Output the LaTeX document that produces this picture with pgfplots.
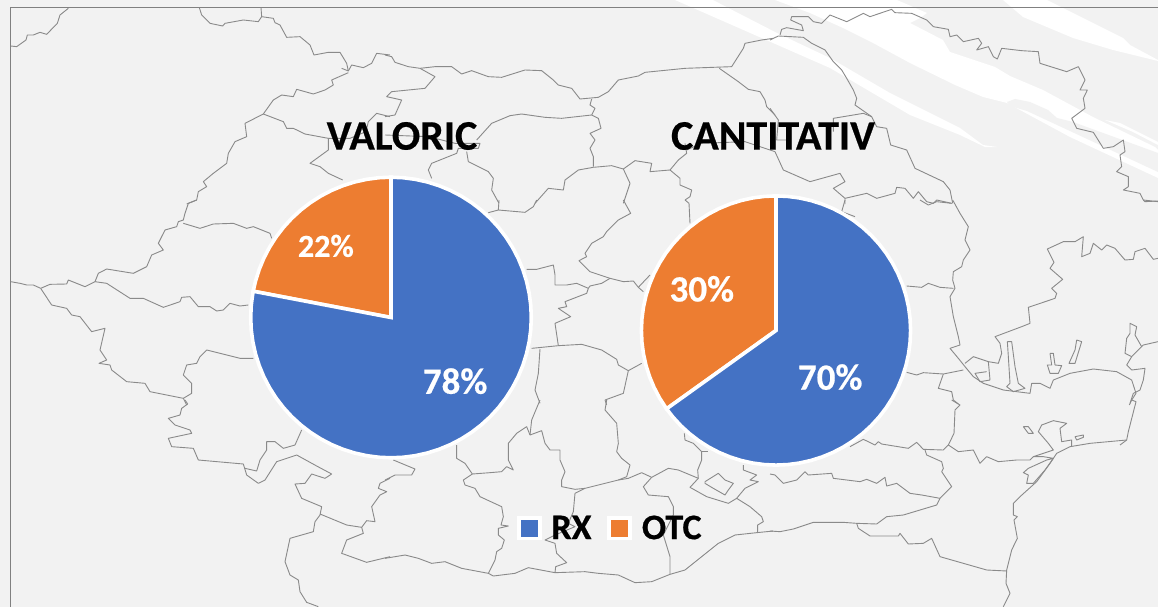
\documentclass[border=0pt]{standalone}
\usepackage{fontspec}
\setmainfont{Carlito}[BoldFeatures={FakeBold=0.5}]
\usepackage{pgfplots}
\pgfplotsset{compat=1.18}
\usepgfplotslibrary{polar}
\definecolor{bg}{HTML}{F2F2F2}
\definecolor{rx}{HTML}{4472C4}
\definecolor{otc}{HTML}{ED7D31}
\definecolor{mapgray}{HTML}{8A8A8A}
% map line given in coordinates of a 3x crop with offset (#1,#2)
\newcommand\ml[3]{\addplot[forget plot,mapgray,line width=0.9pt,line join=round,no markers,
  x filter/.expression={x/3+#1},y filter/.expression={y/3+#2}] coordinates {#3};}
\newcommand\wh[1]{\addplot[forget plot,fill=white,draw=none,no markers] coordinates {#1} -- cycle;}
\pgfplotsset{pie/.style={at={(#1)},anchor=center,scale only axis,hide axis,clip=false,
  xmin=0,xmax=360,ymin=0,ymax=1}}
\begin{document}
\begin{tikzpicture}
\begin{axis}[name=main,at={(0pt,0pt)},anchor=south west,scale only axis,width=1158pt,height=607pt,
  xmin=0,xmax=1158,ymin=0,ymax=607,y dir=reverse,hide axis,
  legend columns=2,
  legend style={at={(0.527,0.130)},anchor=center,draw=none,fill=none,inner sep=0pt,
    font=\fontsize{36}{36}\selectfont\bfseries,
    /tikz/every even column/.append style={column sep=14pt},
    /tikz/every odd column/.append style={column sep=8pt}}]
\fill[bg] (axis cs:0,0) rectangle (axis cs:1158,607);
% white streaks
\wh{(713,0)(740,14)(777,33)(830,58)(890,93)(960,128)(983,145)(997,147)(985,147)(960,135)(910,115)(830,68)(773,43)(675,0)}
\wh{(775,0)(810,13)(843,28)(873,43)(910,63)(955,85)(983,97)(1007,103)(1070,137)(1158,178)(1158,150)(1155,147)(1093,117)(1043,90)(1010,76)(995,67)(950,52)(943,40)(910,23)(920,18)(927,13)(897,0)}
\addplot[forget plot,fill=bg,draw=none,no markers] coordinates {(1007,102)(1015,99)(1030,102)(1048,110)(1057,118)(1073,122)(1158,153)(1158,172)(1027,111)(1010,106)} -- cycle;
\wh{(1003,0)(1023,17)(1073,38)(1113,50)(1158,61)(1158,60)(1130,45)(1123,38)(1087,20)(1047,0)}
\wh{(1105,120)(1120,123)(1158,142)(1158,145)(1133,132)}
% frame
\draw[gray,line width=0.8pt] (axis cs:10.5,607) -- (axis cs:10.5,7.5) -- (axis cs:1158,7.5);
% map: zoom 1
\ml{0}{0}{(32,138)(50,140)(78,120)(82,105)(100,105)(120,97)(140,103)(172,70)(180,45)(205,25)}
\ml{0}{0}{(598,23)(605,45)(630,70)(668,78)(675,70)(730,60)(775,65)(785,50)(783,23)}
\ml{0}{0}{(785,50)(820,55)(825,68)(840,75)(860,112)(900,110)(930,135)(942,165)(985,157)(1020,157)(1040,190)(1045,213)(1025,205)}
\ml{0}{0}{(1045,213)(1055,195)(1090,203)(1115,190)(1130,160)(1170,165)}
\ml{0}{0}{(560,612)(590,600)(595,575)(620,560)(610,545)(640,520)(680,490)(685,460)(705,425)(740,410)(735,370)(790,342)(820,300)(845,285)(880,290)(890,268)(940,282)(975,270)(1000,255)(995,240)(1045,218)}
\ml{0}{0}{(790,342)(850,365)(860,385)(880,385)(915,402)(985,415)(985,450)(930,490)(960,500)(985,520)(1028,540)}
\ml{0}{0}{(985,415)(1050,415)(1098,395)(1105,365)(1130,340)(1170,350)}
% zoom 2
\ml{385}{0}{(0,165)(20,170)(30,187)(70,200)(105,205)(150,200)(200,200)(230,222)(260,212)(310,230)(350,232)(420,210)(470,212)(505,240)(520,255)(560,265)(585,297)(640,292)(670,275)(700,240)(760,228)(780,217)(900,205)(1040,200)(1075,145)(1080,130)(1130,120)(1165,115)}
\ml{385}{0}{(105,205)(150,230)(120,265)(20,275)(5,290)(50,300)(30,345)(0,350)}
\ml{385}{0}{(0,405)(130,410)(210,430)(285,430)(280,445)(220,445)(215,460)(140,490)(130,510)(140,535)}
\ml{385}{0}{(275,420)(320,370)(375,347)(410,342)(480,352)(530,355)(620,345)(640,355)(648,385)(615,400)(630,420)(615,445)(625,470)(625,500)}
\ml{385}{0}{(620,297)(615,315)(630,325)(620,345)}
\ml{385}{0}{(245,455)(250,485)(310,515)(325,535)(320,570)(342,610)}
\ml{385}{0}{(625,502)(580,510)(540,540)(535,570)(490,565)(450,610)}
\ml{385}{0}{(625,502)(680,497)(715,507)(735,550)(715,610)}
\ml{385}{0}{(715,507)(750,482)(800,490)(795,515)(855,510)(885,535)(885,555)(920,570)(915,590)(900,600)}
\ml{385}{0}{(855,510)(880,480)(905,460)(900,430)}
\ml{385}{0}{(905,450)(950,430)(1080,425)(1170,455)}
\ml{385}{0}{(1003,205)(1060,245)(1090,268)(1125,275)(1140,300)(1145,320)(1170,345)}
% zoom 3
\ml{770}{0}{(0,120)(25,108)(100,112)(125,130)(165,150)(190,185)(215,210)(230,235)(250,270)(260,295)(255,315)(305,350)(320,380)(350,385)(362,435)(410,450)(435,505)(520,545)(540,570)(548,610)}
\ml{770}{0}{(30,105)(35,88)(50,83)(100,92)(95,75)(62,60)(65,50)(115,50)(130,65)(155,70)(180,45)(230,65)(280,40)(300,50)(365,28)(375,38)(425,40)(470,60)(490,80)(535,88)(540,110)(560,105)(580,125)(625,115)(635,130)(620,150)(655,140)(670,170)(682,177)(695,145)(755,152)(805,155)(810,190)(890,215)(925,200)(945,240)(930,270)(952,270)(940,295)(945,325)(905,355)(920,385)(970,397)(1000,445)(1030,440)(1060,420)(1065,455)(1050,465)(1055,500)(1040,515)(1075,530)(1075,560)(1060,570)(1110,580)(1120,600)(1164,605)}
\ml{770}{0}{(0,325)(25,360)(20,420)(50,420)}
\ml{770}{0}{(190,395)(190,355)(280,340)(305,350)}
\ml{770}{0}{(15,455)(40,510)(120,545)(210,520)(225,545)(190,565)(225,595)(225,612)}
\ml{770}{0}{(225,595)(290,580)(320,595)(375,580)(380,562)(405,565)(430,595)(445,575)(470,605)(490,610)(500,600)(545,610)}
% zoom 4
\ml{0}{200}{(32,245)(60,250)(80,255)(100,255)(122,265)(150,253)(200,252)(205,240)(255,260)(285,245)(295,220)(320,207)(400,220)(440,200)(455,165)(490,150)(475,130)(495,90)(530,80)(535,65)(550,60)(555,40)(565,10)(590,0)}
\ml{0}{200}{(122,265)(155,315)(200,325)(215,345)(240,350)(275,395)(315,385)(300,450)(320,480)(297,490)(330,495)(335,510)(380,545)(435,550)(450,575)(550,595)(560,615)}
\ml{0}{200}{(285,245)(320,250)(390,295)(430,295)(490,322)(540,305)(545,292)(570,290)(595,320)(630,320)(650,333)(670,330)(690,310)(720,318)(745,315)}
\ml{0}{200}{(550,70)(600,85)(640,72)(700,70)(740,85)(760,80)(810,100)(815,115)}
\ml{0}{200}{(760,475)(720,475)(620,450)(600,470)(590,490)(560,495)(550,525)(575,550)(575,580)(550,595)}
% zoom 5
\ml{385}{200}{(342,0)(340,30)(310,38)}
\ml{385}{200}{(340,30)(420,37)(445,20)(455,0)}
\ml{385}{200}{(715,0)(737,40)(700,60)(665,95)(655,110)(620,130)(600,160)(605,170)(582,182)(615,215)(675,235)(715,245)(745,243)(760,262)(775,275)}
\ml{385}{200}{(900,0)(912,10)(915,70)}
\ml{385}{200}{(425,208)(455,208)(505,195)(510,225)(510,255)(545,255)(575,250)(610,265)(615,258)(650,250)(675,235)}
\ml{385}{200}{(610,265)(605,280)(540,305)(545,320)(520,325)(557,350)(510,370)(520,437)}
\ml{385}{200}{(440,445)(520,437)(590,433)(650,450)(695,478)(700,495)(730,512)(770,490)}
\ml{385}{200}{(730,512)(715,580)(660,600)(665,615)}
\ml{385}{200}{(465,447)(460,520)(450,570)(465,610)}
\ml{385}{200}{(760,262)(795,225)}
% zoom 6
\ml{770}{200}{(548,0)(570,40)(595,80)(585,120)(600,150)(580,180)(575,200)(550,215)(548,240)(555,265)(540,290)(550,350)(565,410)(570,435)(540,445)(565,475)(585,500)(610,530)(640,550)(700,570)(780,580)(785,550)(810,550)(840,565)(850,540)(900,520)(970,507)(1040,515)(1085,540)(1098,580)(1085,600)(1078,615)}
\ml{770}{200}{(585,490)(610,470)(655,485)(685,490)(695,460)(690,430)(675,410)(755,380)(780,370)(775,322)(855,295)(860,280)(845,265)(878,238)(840,205)(852,187)(832,147)(880,125)(915,125)(940,110)(935,170)(960,160)(970,130)(995,150)(1010,135)(1035,145)(1065,180)(1090,178)(1095,155)(1125,145)(1150,178)(1164,175)}
\ml{770}{200}{(655,485)(660,540)(630,545)(615,520)(650,515)}
\ml{770}{200}{(712,425)(725,425)(735,500)(745,550)(765,565)(730,575)(710,560)(720,550)(715,470)(712,425)}
\ml{770}{200}{(840,460)(850,460)(855,495)(875,497)(865,520)(840,520)(832,495)(845,495)(840,460)}
\ml{770}{200}{(920,420)(935,425)(915,490)(897,490)(915,450)(920,420)}
\ml{770}{200}{(1164,425)(1120,435)(1085,470)(1070,495)(1085,510)(1125,505)(1120,540)(1110,570)(1090,580)(1080,610)}
\ml{770}{200}{(1085,470)(1065,460)(1070,415)(1080,400)(1080,370)(1100,380)(1095,405)(1115,440)}
\ml{770}{200}{(410,258)(455,262)(475,250)(510,262)(550,265)}
\ml{770}{200}{(410,517)(440,525)(460,518)(520,522)(580,510)}
\ml{770}{200}{(520,522)(505,565)(545,575)(550,600)(565,612)}
\ml{770}{200}{(225,0)(215,35)(255,50)}
\ml{770}{200}{(450,0)(475,15)(500,5)(545,10)}
\ml{770}{200}{(1120,0)(1125,5)(1164,3)}
% zoom 7
\ml{0}{400}{(555,0)(563,12)(545,25)(540,45)(505,55)(525,75)(570,90)(575,100)(505,115)(515,140)(580,145)(595,180)(730,192)(740,225)(775,250)(795,240)(830,185)(890,165)(950,198)(995,222)(975,235)(935,222)(915,250)(885,252)(905,295)(965,320)(960,345)(945,365)(940,395)(870,415)(855,485)(870,525)(895,540)(900,575)(920,607)(955,620)}
\ml{0}{400}{(735,205)(770,213)(780,180)(800,150)(800,125)(825,125)(850,145)(885,135)(905,90)}
\ml{0}{400}{(960,342)(1040,375)(1085,382)(1090,400)(1040,420)(1025,460)(1100,487)(1170,470)}
\ml{0}{400}{(1085,382)(1100,362)(1125,365)(1115,320)(1140,285)(1160,275)(1135,265)(1140,250)(1170,235)}
% zoom 8
\ml{385}{400}{(0,475)(60,465)(100,475)(140,490)(180,485)(230,505)(310,520)(325,528)(390,520)(430,503)(510,518)(600,515)(640,520)(700,525)(750,548)(800,545)(855,523)(900,510)(950,470)(1000,430)(1050,405)(1115,398)(1165,393)}
\ml{385}{400}{(215,135)(215,175)(240,190)(262,222)(235,240)(240,255)(270,265)(285,290)(350,320)(355,350)(348,375)(370,378)(340,385)(340,405)(358,420)(350,445)(335,455)(330,480)(310,520)}
\ml{385}{400}{(262,222)(315,218)(350,215)(365,200)(385,210)(370,180)(370,130)(395,100)(425,80)(435,105)(470,92)(480,130)(495,150)(525,150)(525,180)(540,215)(530,240)(530,260)(570,268)(600,265)(700,240)(730,235)(770,218)(800,232)(850,205)(880,210)(940,235)(938,210)(950,180)(950,155)(925,130)(900,120)(898,100)}
\ml{385}{400}{(435,105)(440,60)(465,0)}
\ml{385}{400}{(700,240)(725,230)(735,195)(710,175)(695,155)(700,130)(695,70)(660,30)(665,0)}
\ml{385}{400}{(600,265)(570,280)(565,335)(550,370)(570,380)(510,405)(480,420)(510,430)(515,460)(545,488)(512,500)(510,518)}
\ml{385}{400}{(800,232)(775,260)(790,285)(850,290)(865,320)(865,345)(835,405)(855,470)(855,523)}
\ml{385}{400}{(0,240)(30,225)(80,225)(90,207)(25,180)}
\ml{385}{400}{(940,235)(915,262)(965,290)(1030,310)(1055,295)(1095,320)(1130,350)(1135,365)(1118,375)(1118,398)}
\ml{385}{400}{(1055,295)(1080,265)(1120,245)(1095,240)(1115,225)(1075,210)(1075,195)}
\ml{385}{400}{(960,245)(1000,220)(1020,240)(1045,250)(1030,270)(1020,285)(985,265)(960,250)(960,245)}
\ml{385}{400}{(950,155)(970,155)}
% zoom 9
\ml{770}{400}{(240,140)(280,118)(315,135)(325,125)(335,132)(415,145)(440,127)(460,148)(520,150)(535,135)(552,100)(555,30)(570,15)(545,0)}
\ml{770}{400}{(535,135)(565,155)(610,150)(630,190)(650,170)(685,185)(740,180)(780,180)(790,170)(850,150)(835,130)(805,95)(815,75)(850,62)(890,70)(870,85)(875,125)(905,120)(905,140)}
\ml{770}{400}{(790,170)(820,170)(850,175)(825,210)(790,250)(770,250)(775,225)(760,218)(775,205)(830,180)(850,175)}
\ml{770}{400}{(760,80)(775,80)(790,100)(775,100)(760,80)}
\ml{770}{400}{(915,110)(940,105)(940,112)(920,120)(915,110)}
\ml{770}{400}{(465,150)(470,165)(515,185)(520,205)(515,215)(545,260)(510,295)(500,315)(450,330)(400,345)(350,350)(320,372)(260,370)(220,367)(130,367)(70,387)(30,395)(0,393)}
\ml{770}{400}{(510,295)(455,285)(420,280)(380,250)(350,258)(345,232)(320,250)(290,238)(270,245)(190,235)(185,220)(115,225)(105,215)(80,240)(40,250)(15,225)(0,222)}
\ml{770}{400}{(260,370)(265,385)(300,408)(385,408)(390,400)(415,432)(460,430)(485,415)(510,470)(650,510)(710,513)}
\ml{770}{400}{(1085,0)(1098,5)(1075,95)(1070,120)(1050,135)}
\ml{770}{400}{(1070,120)(960,130)(900,140)(860,160)(840,190)(800,245)(750,290)(730,310)(730,345)(742,350)(732,360)(742,415)(725,450)(710,510)(708,550)(720,580)(700,620)}
\addlegendimage{legend image code/.code={\fill[white] (0pt,-11.5pt) rectangle (24pt,11.5pt);\fill[rx] (4pt,-8pt) rectangle (20pt,8pt);}}
\addlegendentry{RX}
\addlegendimage{legend image code/.code={\fill[white] (0pt,-11.5pt) rectangle (24pt,11.5pt);\fill[otc] (4pt,-8pt) rectangle (20pt,8pt);}}
\addlegendentry{OTC}
\node[font=\fontsize{42}{42}\selectfont\bfseries] at (axis cs:402,136) {VALORIC};
\node[font=\fontsize{42}{42}\selectfont\bfseries] at (axis cs:773,136) {CANTITATIV};
\end{axis}
% VALORIC pie: 78 / 22
\begin{polaraxis}[pie={391pt,289.5pt},width=280.6pt,height=280.6pt]
\addplot[fill=otc,draw=white,line width=3.6pt,line join=miter,no markers] coordinates {(0,0)(169.2,1)(165,1)(160,1)(155,1)(150,1)(145,1)(140,1)(135,1)(130,1)(125,1)(120,1)(115,1)(110,1)(105,1)(100,1)(95,1)(90,1)} -- cycle;
\addplot[fill=rx,draw=white,line width=3.6pt,line join=miter,no markers] coordinates {(0,0)(90,1)(85,1)(80,1)(75,1)(70,1)(65,1)(60,1)(55,1)(50,1)(45,1)(40,1)(35,1)(30,1)(25,1)(20,1)(15,1)(10,1)(5,1)(0,1)(355,1)(350,1)(345,1)(340,1)(335,1)(330,1)(325,1)(320,1)(315,1)(310,1)(305,1)(300,1)(295,1)(290,1)(285,1)(280,1)(275,1)(270,1)(265,1)(260,1)(255,1)(250,1)(245,1)(240,1)(235,1)(230,1)(225,1)(220,1)(215,1)(210,1)(205,1)(200,1)(195,1)(190,1)(185,1)(180,1)(175,1)(170,1)(169.2,1)} -- cycle;
\node[white,font=\fontsize{32}{32}\selectfont\bfseries] at (axis cs:132.3,0.69) {22\%};
\node[white,font=\fontsize{37}{37}\selectfont\bfseries] at (axis cs:315.2,0.644) {78\%};
\end{polaraxis}
% CANTITATIV pie: labels 70 / 30, drawn slices as in the picture
\begin{polaraxis}[pie={776pt,276.5pt},width=269.2pt,height=269.2pt]
\addplot[fill=otc,draw=white,line width=3.6pt,line join=miter,no markers] coordinates {(0,0)(215.6,1)(210,1)(205,1)(200,1)(195,1)(190,1)(185,1)(180,1)(175,1)(170,1)(165,1)(160,1)(155,1)(150,1)(145,1)(140,1)(135,1)(130,1)(125,1)(120,1)(115,1)(110,1)(105,1)(100,1)(95,1)(90,1)} -- cycle;
\addplot[fill=rx,draw=white,line width=3.6pt,line join=miter,no markers] coordinates {(0,0)(90,1)(85,1)(80,1)(75,1)(70,1)(65,1)(60,1)(55,1)(50,1)(45,1)(40,1)(35,1)(30,1)(25,1)(20,1)(15,1)(10,1)(5,1)(0,1)(355,1)(350,1)(345,1)(340,1)(335,1)(330,1)(325,1)(320,1)(315,1)(310,1)(305,1)(300,1)(295,1)(290,1)(285,1)(280,1)(275,1)(270,1)(265,1)(260,1)(255,1)(250,1)(245,1)(240,1)(235,1)(230,1)(225,1)(220,1)(215.6,1)} -- cycle;
\node[white,font=\fontsize{37}{37}\selectfont\bfseries] at (axis cs:150.7,0.632) {30\%};
\node[white,font=\fontsize{37}{37}\selectfont\bfseries] at (axis cs:319.3,0.531) {70\%};
\end{polaraxis}
\end{tikzpicture}
\end{document}
